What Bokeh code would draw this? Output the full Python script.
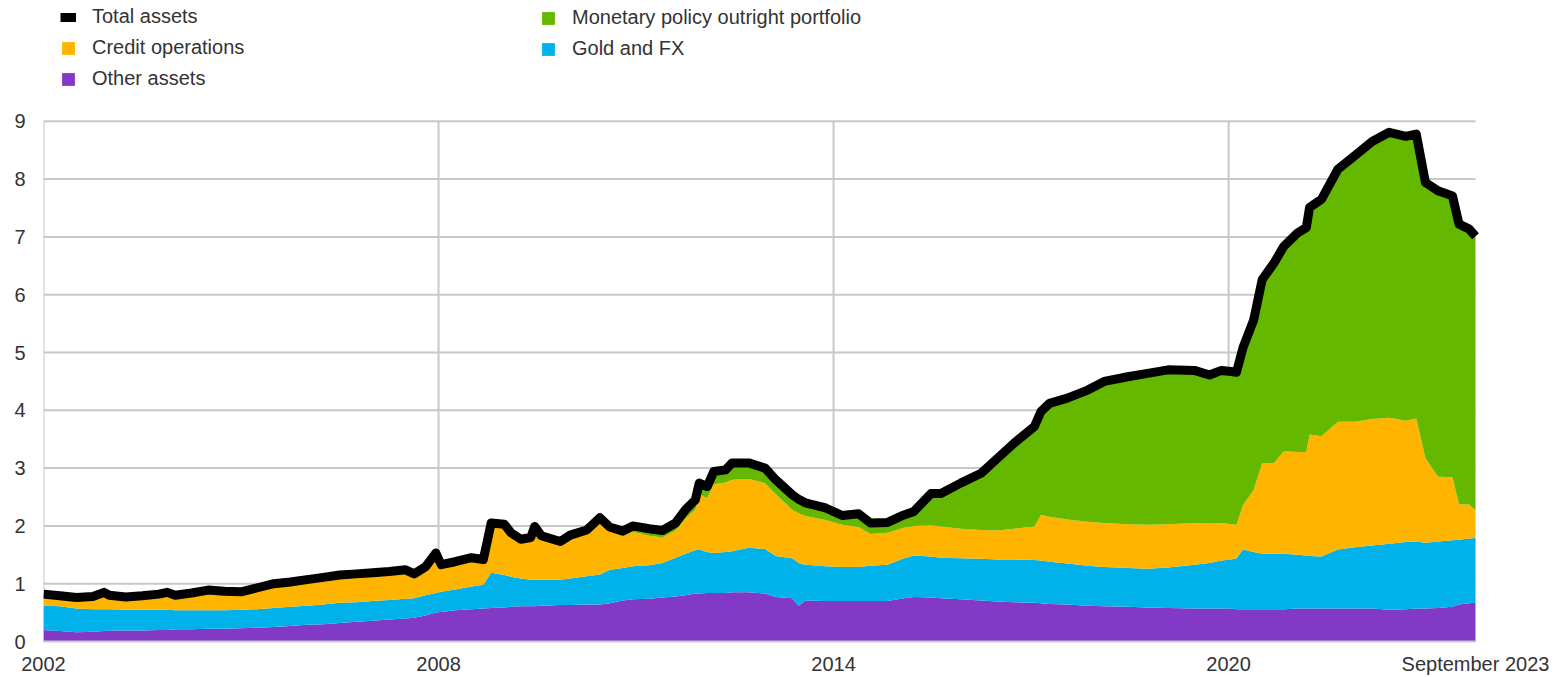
from bokeh.plotting import figure
from bokeh.models import (ColumnDataSource, FixedTicker, Legend, LegendItem, Range1d)
from bokeh.embed import file_html
from bokeh.resources import INLINE

# decimal years
dates = [2002.00, 2002.25, 2002.50, 2002.75, 2002.92, 2003.00, 2003.25, 2003.50, 2003.75, 2003.88,
         2004.00, 2004.25, 2004.50, 2004.75, 2005.00, 2005.25, 2005.50, 2005.75, 2006.00, 2006.25,
         2006.50, 2006.75, 2007.00, 2007.25, 2007.50, 2007.63, 2007.80, 2007.96, 2008.04, 2008.25,
         2008.50, 2008.68, 2008.80, 2009.00, 2009.10, 2009.25, 2009.40, 2009.46, 2009.56, 2009.85,
         2010.00, 2010.25, 2010.45, 2010.60, 2010.80, 2010.95, 2011.20, 2011.40, 2011.60, 2011.75,
         2011.90, 2011.96, 2012.08, 2012.18, 2012.36, 2012.46, 2012.71, 2012.96, 2013.12, 2013.37,
         2013.47, 2013.57, 2013.88, 2014.13, 2014.38, 2014.56, 2014.82, 2015.07, 2015.22, 2015.48,
         2015.63, 2015.93, 2016.24, 2016.49, 2016.74, 2017.05, 2017.15, 2017.28, 2017.55, 2017.86,
         2018.11, 2018.47, 2018.77, 2019.08, 2019.48, 2019.71, 2019.89, 2020.04, 2020.12, 2020.22,
         2020.38, 2020.51, 2020.69, 2020.84, 2021.05, 2021.18, 2021.23, 2021.41, 2021.66, 2021.92,
         2022.18, 2022.44, 2022.69, 2022.85, 2022.99, 2023.18, 2023.40, 2023.50, 2023.65, 2023.75]

other_assets = [0.20, 0.18, 0.16, 0.17, 0.18, 0.19, 0.19, 0.19, 0.20, 0.20,
                0.21, 0.21, 0.22, 0.22, 0.23, 0.24, 0.25, 0.27, 0.29, 0.30,
                0.32, 0.34, 0.36, 0.38, 0.40, 0.41, 0.45, 0.50, 0.51, 0.54,
                0.56, 0.57, 0.58, 0.59, 0.60, 0.61, 0.61, 0.61, 0.62, 0.63,
                0.63, 0.64, 0.64, 0.66, 0.71, 0.73, 0.74, 0.76, 0.78, 0.80,
                0.83, 0.83, 0.84, 0.84, 0.84, 0.85, 0.85, 0.83, 0.77, 0.75,
                0.62, 0.71, 0.70, 0.70, 0.70, 0.70, 0.70, 0.75, 0.77, 0.76,
                0.75, 0.73, 0.71, 0.69, 0.68, 0.67, 0.66, 0.65, 0.64, 0.62,
                0.61, 0.60, 0.59, 0.58, 0.57, 0.57, 0.57, 0.57, 0.56, 0.56,
                0.56, 0.56, 0.56, 0.56, 0.57, 0.57, 0.57, 0.57, 0.57, 0.57,
                0.57, 0.55, 0.56, 0.57, 0.57, 0.58, 0.60, 0.64, 0.66, 0.67]

gold_fx = [0.42, 0.43, 0.41, 0.39, 0.38, 0.37, 0.36, 0.36, 0.35, 0.35,
           0.33, 0.33, 0.32, 0.32, 0.32, 0.32, 0.33, 0.33, 0.33, 0.34,
           0.35, 0.34, 0.34, 0.34, 0.34, 0.34, 0.35, 0.34, 0.35, 0.36,
           0.39, 0.41, 0.61, 0.56, 0.52, 0.48, 0.46, 0.46, 0.45, 0.44,
           0.46, 0.49, 0.52, 0.58, 0.56, 0.57, 0.58, 0.60, 0.67, 0.72,
           0.75, 0.76, 0.71, 0.69, 0.71, 0.71, 0.77, 0.77, 0.71, 0.69,
           0.74, 0.62, 0.60, 0.59, 0.59, 0.61, 0.63, 0.69, 0.72, 0.71,
           0.70, 0.71, 0.72, 0.73, 0.74, 0.74, 0.74, 0.73, 0.71, 0.69,
           0.68, 0.67, 0.67, 0.70, 0.76, 0.79, 0.83, 0.85, 0.88, 1.03,
           0.99, 0.96, 0.96, 0.96, 0.93, 0.92, 0.91, 0.90, 1.02, 1.06,
           1.09, 1.14, 1.16, 1.16, 1.14, 1.15, 1.15, 1.12, 1.12, 1.12]

credit_operations = [0.20, 0.18, 0.19, 0.22, 0.29, 0.24, 0.22, 0.24, 0.27, 0.30,
                     0.26, 0.30, 0.35, 0.33, 0.31, 0.37, 0.42, 0.43, 0.45, 0.47,
                     0.48, 0.49, 0.49, 0.49, 0.50, 0.42, 0.49, 0.69, 0.47, 0.48,
                     0.50, 0.44, 0.86, 0.88, 0.76, 0.68, 0.73, 0.92, 0.76, 0.66,
                     0.75, 0.80, 0.98, 0.68, 0.55, 0.60, 0.51, 0.44, 0.47, 0.61,
                     0.70, 0.96, 0.93, 1.19, 1.20, 1.24, 1.19, 1.14, 1.07, 0.84,
                     0.86, 0.84, 0.80, 0.73, 0.69, 0.55, 0.55, 0.53, 0.51, 0.54,
                     0.54, 0.51, 0.50, 0.50, 0.53, 0.58, 0.79, 0.78, 0.76, 0.76,
                     0.76, 0.76, 0.76, 0.75, 0.72, 0.68, 0.65, 0.61, 0.58, 0.77,
                     1.07, 1.57, 1.57, 1.77, 1.78, 1.79, 2.10, 2.08, 2.21, 2.17,
                     2.19, 2.18, 2.10, 2.13, 1.46, 1.12, 1.09, 0.61, 0.59, 0.48]

mp_outright_portfolio = [0, 0, 0, 0, 0, 0, 0, 0, 0, 0,
                         0, 0, 0, 0, 0, 0, 0, 0, 0, 0,
                         0, 0, 0, 0, 0, 0, 0, 0, 0, 0,
                         0, 0, 0, 0, 0, 0, 0, 0, 0, 0,
                         0, 0, 0, 0.06, 0.09, 0.10, 0.12, 0.12, 0.13, 0.15,
                         0.17, 0.19, 0.20, 0.22, 0.22, 0.29, 0.28, 0.26, 0.25, 0.26,
                         0.24, 0.23, 0.21, 0.16, 0.23, 0.19, 0.18, 0.22, 0.25, 0.55,
                         0.57, 0.79, 0.98, 1.25, 1.48, 1.73, 1.79, 1.96, 2.10, 2.28,
                         2.45, 2.55, 2.62, 2.67, 2.64, 2.57, 2.64, 2.64, 2.64, 2.73,
                         2.94, 3.17, 3.46, 3.55, 3.79, 3.88, 3.93, 4.10, 4.37, 4.61,
                         4.80, 4.94, 4.92, 4.92, 4.91, 4.95, 4.87, 4.85, 4.77, 4.74]

total_assets = [0.82, 0.79, 0.76, 0.78, 0.85, 0.80, 0.77, 0.79, 0.82, 0.85,
                0.80, 0.84, 0.89, 0.87, 0.86, 0.93, 1.00, 1.03, 1.07, 1.11,
                1.15, 1.17, 1.19, 1.21, 1.24, 1.17, 1.29, 1.53, 1.33, 1.38,
                1.45, 1.42, 2.05, 2.03, 1.88, 1.77, 1.80, 1.99, 1.83, 1.73,
                1.84, 1.93, 2.14, 1.98, 1.91, 2.00, 1.95, 1.92, 2.05, 2.28,
                2.45, 2.74, 2.68, 2.94, 2.97, 3.09, 3.09, 3.00, 2.80, 2.54,
                2.46, 2.40, 2.31, 2.18, 2.21, 2.05, 2.06, 2.19, 2.25, 2.56,
                2.56, 2.74, 2.91, 3.17, 3.43, 3.72, 3.98, 4.12, 4.21, 4.35,
                4.50, 4.58, 4.64, 4.70, 4.69, 4.61, 4.69, 4.67, 4.66, 5.09,
                5.56, 6.26, 6.55, 6.84, 7.07, 7.16, 7.51, 7.65, 8.17, 8.41,
                8.65, 8.81, 8.74, 8.78, 7.94, 7.80, 7.71, 7.22, 7.14, 7.01]

year_ticks = [2002, 2008, 2014, 2020]
y_ticks = [0, 1, 2, 3, 4, 5, 6, 7, 8, 9]
end_label = "September 2023"

PURPLE = "#8139C6"
BLUE = "#00B1EA"
ORANGE = "#FFB400"
GREEN = "#65B800"
GRID = "#c8c8c8"
TEXT = "#333333"
FONT = "Liberation Sans"

# layout constants (pixels)
W, H = 1560, 677
LEFT, BOTTOM = 43, 35
PX_PER_YEAR = (1475 - 43) / (dates[-1] - dates[0])
PX_PER_UNIT = (642 - 121) / 9.0

x_end = dates[-1] + (W - 1475) / PX_PER_YEAR
y_end = (H - BOTTOM) / PX_PER_UNIT

source = ColumnDataSource(dict(x=dates, other=other_assets, gold=gold_fx,
                               credit=credit_operations, mp=mp_outright_portfolio,
                               total=total_assets))

p = figure(width=W, height=H, output_backend="svg", toolbar_location=None,
           x_range=Range1d(dates[0], x_end), y_range=Range1d(0, y_end),
           min_border_left=LEFT, min_border_right=0, min_border_top=0,
           min_border_bottom=BOTTOM)

# grid lines limited to the data region
hg = p.segment(x0=dates[0], x1=dates[-1], y0=y_ticks[1:], y1=y_ticks[1:],
               line_color=GRID, line_width=2)
vg = p.segment(x0=year_ticks, x1=year_ticks, y0=0, y1=y_ticks[-1],
               line_color=GRID, line_width=2)
hg.level = "underlay"
vg.level = "underlay"

areas = p.varea_stack(["other", "gold", "credit", "mp"], x="x", source=source,
                      color=[PURPLE, BLUE, ORANGE, GREEN])
r_other, r_gold, r_credit, r_mp = areas
r_total = p.line("x", "total", source=source, line_color="black", line_width=9,
                 line_join="round")

p.outline_line_color = None
p.xgrid.visible = False
p.ygrid.visible = False

x_ticks = year_ticks + [dates[-1]]
p.xaxis.ticker = FixedTicker(ticks=x_ticks)
overrides = {t: str(t) for t in year_ticks}
overrides[dates[-1]] = end_label
p.xaxis.major_label_overrides = overrides
p.xaxis.bounds = (dates[0], dates[-1])
p.yaxis.ticker = FixedTicker(ticks=y_ticks)

p.xaxis.axis_line_color = GRID
p.xaxis.axis_line_width = 2
p.yaxis.axis_line_color = None
for ax in (p.xaxis, p.yaxis):
    ax.major_tick_line_color = None
    ax.minor_tick_line_color = None
    ax.major_tick_out = 0
    ax.major_tick_in = 0
    ax.minor_tick_out = 0
    ax.minor_tick_in = 0
    ax.major_label_text_font = FONT
    ax.major_label_text_font_size = "20px"
    ax.major_label_text_color = TEXT
p.xaxis.major_label_standoff = 11
p.yaxis.major_label_standoff = 18


def make_legend(items, loc):
    return Legend(items=items, location=loc, orientation="vertical",
                  padding=0, margin=0, spacing=8, glyph_width=16, glyph_height=16,
                  label_height=22, label_standoff=16, border_line_color=None,
                  background_fill_alpha=0, label_text_font=FONT,
                  label_text_font_size="20px", label_text_color=TEXT)


leg1 = make_legend([LegendItem(label="Total assets", renderers=[r_total]),
                    LegendItem(label="Credit operations", renderers=[r_credit]),
                    LegendItem(label="Other assets", renderers=[r_other])], (17, 551))
leg2 = make_legend([LegendItem(label="Monetary policy outright portfolio", renderers=[r_mp]),
                    LegendItem(label="Gold and FX", renderers=[r_gold])], (497, 581))
p.add_layout(leg1)
p.add_layout(leg2)

open("out.html", "w").write(file_html(p, INLINE))
